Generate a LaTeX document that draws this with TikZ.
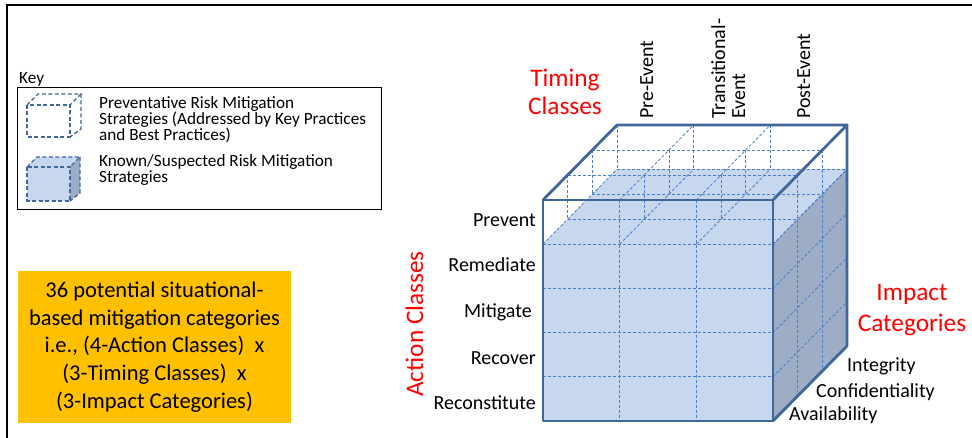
\documentclass[tikz,border=0pt]{standalone}
\usepackage{fontspec}
\setmainfont{Carlito}
\definecolor{edgeblue}{HTML}{41679A}
\definecolor{dashblue}{HTML}{4A7EC8}
\definecolor{lightblue}{HTML}{C6D7EE}
\definecolor{darkside}{HTML}{9DADC6}
\definecolor{boxorange}{HTML}{FFC000}
\begin{document}
\begin{tikzpicture}[x=1pt,y=-1pt,
  cubeedge/.style={draw=edgeblue, line width=2.8pt, line join=round, line cap=round},
  griddash/.style={draw=dashblue, line width=0.8pt, dash pattern=on 3pt off 2pt},
  keydash/.style={draw=edgeblue, line width=1.4pt, dash pattern=on 4pt off 2.5pt},
  lbl/.style={inner sep=0pt, font=\fontsize{20}{20}\selectfont},
  redlbl/.style={inner sep=0pt, text=red, font=\fontsize{25.3}{29}\selectfont},
  keytxt/.style={inner sep=0pt, font=\fontsize{17.2}{16}\selectfont, anchor=base west}]
\useasboundingbox (0,0) rectangle (972,438);
% frame
\draw[line width=2pt] (6.5,438) -- (6.5,5) -- (972,5);
% key
\node[keytxt] (keylbl) at (19,83.5) {Key};
\draw[line width=0.8pt] (17,87) rectangle (381,209);
% key cube 1 (wireframe)
\draw[keydash] (27,105) rectangle (70,137);
\draw[keydash] (27,105) -- (38,94) -- (81,94) -- (70,105);
\draw[keydash] (81,94) -- (81,129) -- (70,137);
% key cube 2 (filled)
\fill[lightblue] (27,167) rectangle (70,201);
\fill[lightblue] (27,167) -- (37,157) -- (80,157) -- (70,167) -- cycle;
\fill[darkside] (70,167) -- (80,157) -- (80,193) -- (70,201) -- cycle;
\draw[keydash] (27,167) rectangle (70,201);
\draw[keydash] (27,167) -- (37,157) -- (80,157) -- (70,167);
\draw[keydash] (80,157) -- (80,193) -- (70,201);
\node[keytxt] (k1a) at (99,108.5) {Preventative Risk Mitigation};
\node[keytxt] (k1b) at (99,124.5) {Strategies (Addressed by Key Practices};
\node[keytxt] (k1c) at (99,140.5) {and Best Practices)};
\node[keytxt] (k2a) at (99,166.5) {Known/Suspected Risk Mitigation};
\node[keytxt] (k2b) at (99,182.5) {Strategies};
% orange box
\node[fill=boxorange, inner sep=0pt, minimum width=273pt, minimum height=152pt, align=center,
  font=\fontsize{22.5}{27.7}\selectfont] (sum) at (154.5,347)
  {36 potential situational-\\based mitigation categories\\i.e., (4-Action Classes)\ \ x\\(3-Timing Classes)\ \ x\\(3-Impact Categories)};
% cube coordinates
\foreach \i in {0,...,3}{\foreach \r in {0,...,5}{\foreach \d in {0,...,3}{
  \coordinate (p\i\r\d) at ({543+\i*76.6667+\d*24.6667},{200+\r*44.2-\d*25});}}}
% filled inner box
\fill[lightblue] (p010) rectangle (p350);
\fill[lightblue] (p010) -- (p310) -- (p313) -- (p013) -- cycle;
\fill[darkside] (p310) -- (p313) -- (p353) -- (p350) -- cycle;
% prevent layer wireframe
\foreach \i in {0,...,3}{\foreach \d in {0,...,3}{\draw[griddash] (p\i0\d) -- (p\i1\d);}}
\foreach \r in {0,1}{\foreach \d in {1,2,3}{\draw[griddash] (p0\r\d) -- (p3\r\d);}}
\foreach \r in {0,1}{\foreach \i in {0,...,3}{\draw[griddash] (p\i\r0) -- (p\i\r3);}}
% front face grid
\foreach \i in {1,2}{\draw[griddash] (p\i00) -- (p\i50);}
\foreach \r in {1,...,4}{\draw[griddash] (p0\r0) -- (p3\r0);}
% right face grid
\foreach \d in {1,2}{\draw[griddash] (p30\d) -- (p35\d);}
\foreach \r in {1,...,4}{\draw[griddash] (p3\r0) -- (p3\r3);}
% outline
\draw[cubeedge] (p000) rectangle (p350);
\draw[cubeedge] (p000) -- (p003) -- (p303) -- (p300);
\draw[cubeedge] (p303) -- (p353) -- (p350);
% labels
\node[redlbl, anchor=base] (tim1) at (565,87) {Timing};
\node[redlbl, anchor=base] (tim2) at (565,115) {Classes};
\node[redlbl, anchor=base] (imp1) at (912,301) {Impact};
\node[redlbl, anchor=base] (imp2) at (912,332) {Categories};
\node[redlbl, rotate=90, anchor=base] (action) at (423,324) {Action Classes};
\node[lbl, rotate=90, anchor=base west] (pre) at (653,119) {Pre-Event};
\node[lbl, rotate=90, anchor=base west] (tra1) at (725,119) {Transitional-};
\node[lbl, rotate=90, anchor=base west] (tra2) at (745,119) {Event};
\node[lbl, rotate=90, anchor=base west] (post) at (810,119) {Post-Event};
\node[lbl, anchor=base east] (prev) at (536,227) {Prevent};
\node[lbl, anchor=base east] (reme) at (536,272) {Remediate};
\node[lbl, anchor=base east] (miti) at (532,318) {Mitigate};
\node[lbl, anchor=base east] (reco) at (536,364) {Recover};
\node[lbl, anchor=base east] (recn) at (536,409) {Reconstitute};
\node[lbl, anchor=base west] (integ) at (847,371) {Integrity};
\node[lbl, anchor=base west] (conf) at (816,397) {Confidentiality};
\node[lbl, anchor=base west] (avail) at (789,420) {Availability};
\end{tikzpicture}
\end{document}
